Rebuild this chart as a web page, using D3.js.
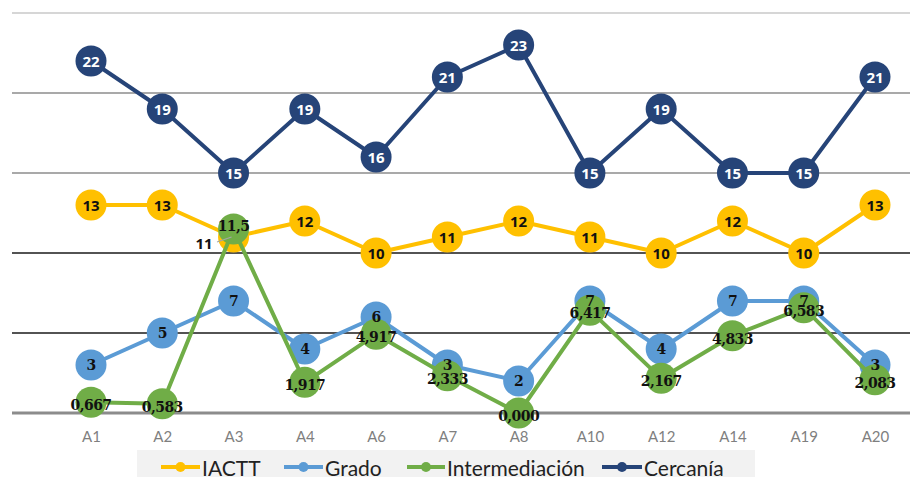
<!DOCTYPE html>
<html><head><meta charset="utf-8">
<script src="https://cdn.jsdelivr.net/npm/d3@7"></script>
<style>body{margin:0;background:#fff}svg{display:block}</style>
</head><body><svg id="c" width="918" height="477"></svg>
<script>
const categories = ["A1","A2","A3","A4","A6","A7","A8","A10","A12","A14","A19","A20"];
const iactt = [13,13,11,12,10,11,12,11,10,12,10,13];
const grado = [3,5,7,4,6,3,2,7,4,7,7,3];
const intermediacion = [0.667,0.583,11.5,1.917,4.917,2.333,0,6.417,2.167,4.833,6.583,2.083];
const intermLabels = ["0,667","0,583","11,5","1,917","4,917","2,333","0,000","6,417","2,167","4,833","6,583","2,083"];
const cercania = [22,19,15,19,16,21,23,15,19,15,15,21];
const yTicks = [0,5,10,15,20,25];

const svg = d3.select("#c");
const x = d3.scalePoint().domain(categories).range([91,875]);
const y = d3.scaleLinear().domain([0,25]).range([413,13]);

const gridColors = {0:"#8c8c8c",5:"#1a1a1a",10:"#1a1a1a",15:"#8c8c8c",20:"#8c8c8c",25:"#c8c8c8"};
svg.append("g").selectAll("line").data(yTicks).join("line")
  .attr("x1",12).attr("x2",910)
  .attr("y1",d=>y(d)).attr("y2",d=>y(d))
  .attr("stroke",d=>gridColors[d])
  .attr("stroke-width",d=>d===0?3:(d===25?1.5:1.3));

const xAxis = svg.append("g").attr("transform","translate(0,413)")
  .call(d3.axisBottom(x).tickSize(0).tickPadding(18));
xAxis.select(".domain").remove();
xAxis.selectAll("text").attr("fill","#7f7f7f").attr("font-family","Lato, sans-serif").attr("font-size",15);

const series = [
  {name:"IACTT", vals:iactt, color:"#FFC000", txt:"#111", font:"Open Sans, sans-serif"},
  {name:"Grado", vals:grado, color:"#5B9BD5", txt:"#111", font:"DejaVu Serif, serif"},
  {name:"Intermediación", vals:intermediacion, color:"#70AD47", txt:"#111", font:"DejaVu Serif, serif", labels:intermLabels},
  {name:"Cercanía", vals:cercania, color:"#264478", txt:"#fff", font:"Open Sans, sans-serif"}
];

const line = d3.line().x((d,i)=>x(categories[i])).y(d=>y(d));
series.forEach(s=>{
  const g = svg.append("g");
  g.append("path").datum(s.vals).attr("d",line).attr("fill","none")
    .attr("stroke",s.color).attr("stroke-width",4).attr("stroke-linejoin","round");
  g.selectAll("circle").data(s.vals).join("circle")
    .attr("cx",(d,i)=>x(categories[i])).attr("cy",d=>y(d)).attr("r",15.5).attr("fill",s.color);
});

// leader line for IACTT A3
svg.append("line").attr("x1",217).attr("y1",242).attr("x2",x("A3")-2).attr("y2",y(11))
  .attr("stroke","#a6a6a6").attr("stroke-width",1.3);

series.forEach(s=>{
  const g = svg.append("g");
  g.selectAll("text").data(s.vals).join("text")
    .attr("x",(d,i)=> (s.name==="IACTT" && i===2) ? 204 : x(categories[i]))
    .attr("y",(d,i)=>{
      if (s.name==="IACTT" && i===2) return 243;
      if (s.name==="Intermediación") return i===2 ? y(d)-3 : y(d)+3;
      return y(d);
    })
    .attr("text-anchor","middle").attr("dominant-baseline","central")
    .attr("fill",s.txt).attr("font-family",s.font).attr("font-weight","bold")
    .attr("font-size",s.font.startsWith("DejaVu")?14:15)
    .attr("letter-spacing",s.font.startsWith("DejaVu")?-0.6:0)
    .text((d,i)=> s.labels ? s.labels[i] : d);
});

// legend
const lg = svg.append("g");
lg.append("rect").attr("x",137).attr("y",450).attr("width",618).attr("height",27).attr("fill","#f2f2f2");
const legLine = [161,284,407,602];
const legText = [202,325,447,644];
series.forEach((s,i)=>{
  const gx = legLine[i];
  lg.append("line").attr("x1",gx).attr("x2",legText[i]-2).attr("y1",467).attr("y2",467)
    .attr("stroke",s.color).attr("stroke-width",4);
  lg.append("circle").attr("cx",(gx+legText[i]-2)/2).attr("cy",467).attr("r",5).attr("fill",s.color);
  lg.append("text").attr("x",legText[i]).attr("y",467).attr("dominant-baseline","central")
    .attr("font-family","Lato, sans-serif").attr("font-size",21).attr("fill","#222").text(s.name);
});
</script></body></html>
